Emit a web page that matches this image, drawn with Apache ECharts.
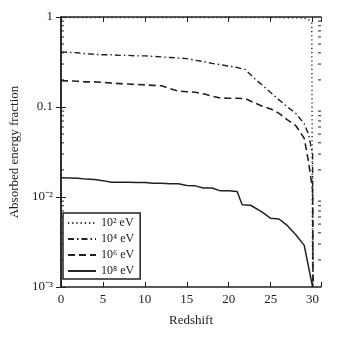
<!DOCTYPE html>
<html>
<head>
<meta charset="utf-8">
<script src="https://cdn.jsdelivr.net/npm/echarts@6/dist/echarts.min.js"></script>
<style>
  html, body { margin: 0; padding: 0; background: #fff; }
  #chart { width: 338px; height: 338px; }
</style>
</head>
<body>
<div id="chart"></div>
<script>
// series data (redshift, absorbed fraction)
const z2 = [0, 5, 10, 15, 20, 25, 28, 29, 29.5, 29.9, 30];
const e2 = [0.985, 0.985, 0.985, 0.985, 0.985, 0.985, 0.98, 0.97, 0.94, 0.85, 0.001];

const z4 = [0, 1, 2, 3, 4, 5, 6, 7, 8, 9, 10, 11, 12, 13, 14, 15, 16, 17, 18, 19, 20, 21, 22, 23, 24, 25, 26, 27, 28, 29, 29.5, 30, 30.05];
const e4 = [0.41, 0.405, 0.4, 0.39, 0.385, 0.38, 0.38, 0.375, 0.375, 0.37, 0.37, 0.365, 0.36, 0.355, 0.35, 0.345, 0.33, 0.32, 0.305, 0.295, 0.285, 0.275, 0.26, 0.21, 0.175, 0.145, 0.12, 0.1, 0.085, 0.065, 0.05, 0.03, 0.001];

const z6 = [0, 1, 2, 3, 4, 5, 6, 7, 8, 9, 10, 11, 12, 13, 14, 15, 16, 17, 18, 19, 20, 21, 22, 23, 24, 25, 26, 27, 28, 29, 29.5, 30, 30.05];
const e6 = [0.196, 0.195, 0.193, 0.19, 0.19, 0.188, 0.184, 0.182, 0.18, 0.178, 0.176, 0.174, 0.172, 0.16, 0.15, 0.148, 0.146, 0.14, 0.132, 0.126, 0.125, 0.125, 0.124, 0.112, 0.102, 0.095, 0.085, 0.072, 0.062, 0.045, 0.025, 0.012, 0.001];

const z8 = [0, 1, 2, 3, 4, 5, 6, 7, 8, 9, 10, 11, 12, 13, 14, 15, 16, 17, 18, 19, 20, 21, 21.6, 22.6, 24, 25, 26, 27, 28, 29, 30];
const e8 = [0.0164, 0.0163, 0.0162, 0.0158, 0.0156, 0.0152, 0.0146, 0.0146, 0.0146, 0.0145, 0.0145, 0.0142, 0.0142, 0.014, 0.014, 0.0134, 0.0133, 0.0126, 0.0126, 0.0117, 0.0117, 0.0115, 0.0082, 0.0081, 0.0068, 0.0058, 0.0057, 0.0048, 0.0038, 0.0029, 0.001];

const seriesNames = ['10² eV', '10⁴ eV', '10⁶ eV', '10⁸ eV'];
const xTicks = [0, 5, 10, 15, 20, 25, 30];
const yTickLabels = { '0': '1', '-1': '0.1', '-2': '10⁻²', '-3': '10⁻³' };
const minorTicks = [];
[0.001, 0.01, 0.1].forEach(b => { for (let m = 2; m <= 9; m++) minorTicks.push(b * m); });

const pair = (xs, ys) => xs.map((x, i) => [x, ys[i]]);
const ink = '#222';
const font = 'Liberation Serif';

const chart = echarts.init(document.getElementById('chart'));

const lineSeries = (name, data, type, width) => ({
  name, type: 'line', data, symbol: 'none', silent: true,
  lineStyle: { color: ink, width, type },
  itemStyle: { color: ink }
});

const option = {
  animation: false,
  backgroundColor: '#fff',
  grid: { left: 61, top: 17, right: 17, bottom: 51, outerBoundsMode: 'none' },
  legend: {
    orient: 'vertical', left: 63, top: 213,
    itemWidth: 28, itemHeight: 10, itemGap: 4,
    padding: [4, 6, 2, 4],
    borderColor: ink, borderWidth: 1.5,
    backgroundColor: '#fff',
    itemStyle: { opacity: 0, borderWidth: 0 },
    textStyle: { fontFamily: font, fontSize: 12, color: ink },
    data: seriesNames
  },
  xAxis: [{
    type: 'value', min: 0, max: 31, interval: 5,
    name: 'Redshift', nameLocation: 'middle', nameGap: 27,
    nameTextStyle: { fontFamily: font, fontSize: 13, color: ink },
    axisLine: { lineStyle: { color: ink, width: 1.5 } },
    axisTick: { inside: true, length: 5, lineStyle: { color: ink } },
    axisLabel: {
      fontFamily: font, fontSize: 13, color: ink, margin: 6,
      formatter: v => xTicks.includes(v) ? String(v) : ''
    },
    splitLine: { show: false }
  }, {
    type: 'value', min: 0, max: 31, interval: 5, position: 'top',
    axisLine: { lineStyle: { color: ink, width: 1.5 } },
    axisTick: { inside: true, length: 5, lineStyle: { color: ink } },
    axisLabel: { show: false }, splitLine: { show: false }
  }],
  yAxis: [{
    type: 'log', logBase: 10, min: 0.001, max: 1,
    name: 'Absorbed energy fraction', nameLocation: 'middle', nameGap: 40,
    nameTextStyle: { fontFamily: font, fontSize: 13, color: ink },
    axisLine: { lineStyle: { color: ink, width: 1.5 } },
    axisTick: { inside: true, length: 5, lineStyle: { color: ink } },
    axisLabel: {
      fontFamily: font, fontSize: 13, color: ink, margin: 8,
      formatter: v => yTickLabels[String(Math.round(Math.log10(v)))] || ''
    },
    splitLine: { show: false }
  }, {
    type: 'log', logBase: 10, min: 0.001, max: 1, position: 'right',
    axisLine: { lineStyle: { color: ink, width: 1.5 } },
    axisTick: { inside: true, length: 5, lineStyle: { color: ink } },
    axisLabel: { show: false }, splitLine: { show: false }
  }],
  series: [
    lineSeries(seriesNames[0], pair(z2, e2), [1.2, 3], 1.4),
    lineSeries(seriesNames[1], pair(z4, e4), [6, 3, 1.5, 3], 1.4),
    lineSeries(seriesNames[2], pair(z6, e6), [7, 4], 1.6),
    lineSeries(seriesNames[3], pair(z8, e8), 'solid', 1.5),
    {
      // minor log ticks on left and right frame
      type: 'custom', silent: true,
      data: minorTicks.map(v => [0, v]),
      renderItem: (params, api) => {
        const y = api.coord([0, api.value(1)])[1];
        const cs = params.coordSys;
        const st = { stroke: ink, lineWidth: 1 };
        return {
          type: 'group', children: [
            { type: 'line', shape: { x1: cs.x, y1: y, x2: cs.x + 3, y2: y }, style: st },
            { type: 'line', shape: { x1: cs.x + cs.width, y1: y, x2: cs.x + cs.width - 3, y2: y }, style: st }
          ]
        };
      }
    }
  ]
};

chart.setOption(option);
</script>
</body>
</html>
